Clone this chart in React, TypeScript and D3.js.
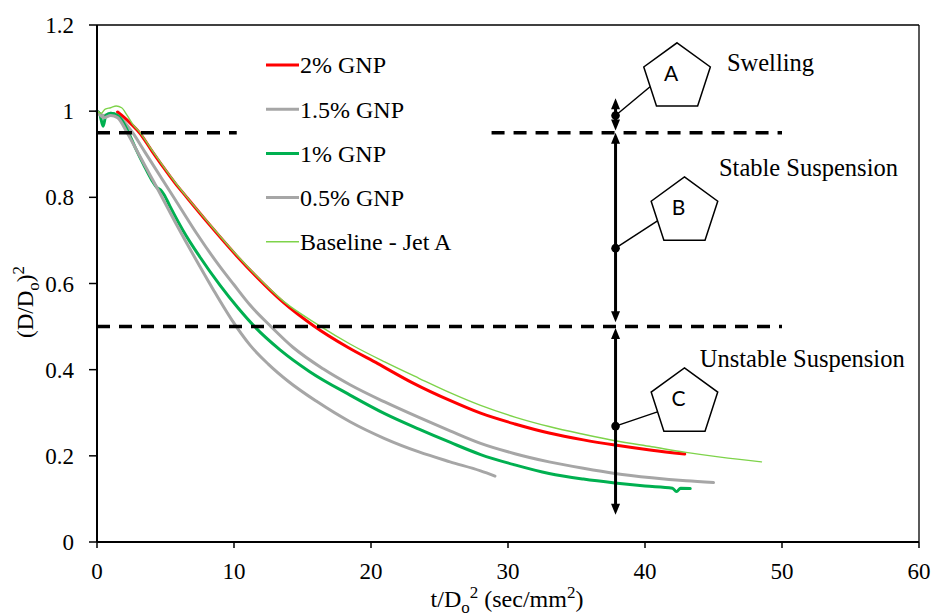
import React from 'react';
import * as d3 from 'd3';

// ---------- data ----------
const xTicks = [0, 10, 20, 30, 40, 50, 60];
const yTicks = [0, 0.2, 0.4, 0.6, 0.8, 1, 1.2];
const yTickLabels = ['0', '0.2', '0.4', '0.6', '0.8', '1', '1.2'];

const gnp2T = [1.5, 2.0, 2.5, 3.1, 4.0, 4.84, 5.7, 6.55, 8.25, 10.2, 11.6, 13.6, 15.8, 18.3, 20.5, 23, 25.8, 28, 30.5, 33, 35.5, 37.8, 40.5, 42.9];
const gnp2V = [0.998, 0.985, 0.97, 0.95, 0.908, 0.87, 0.833, 0.8, 0.735, 0.664, 0.617, 0.556, 0.502, 0.452, 0.414, 0.37, 0.328, 0.299, 0.274, 0.253, 0.237, 0.225, 0.213, 0.204];

const gnp15T = [0, 0.5, 1.0, 1.5, 2.0, 2.6, 3.5, 4.7, 6.0, 7.28, 9.0, 10.0, 11.17, 12.7, 14.3, 16.5, 18.47, 21, 23.5, 25.77, 28, 30.5, 33, 35.5, 37.8, 40.5, 43, 45];
const gnp15V = [1.0, 0.99, 0.995, 0.99, 0.975, 0.95, 0.905, 0.845, 0.78, 0.716, 0.638, 0.597, 0.55, 0.5, 0.452, 0.402, 0.365, 0.325, 0.289, 0.258, 0.229, 0.205, 0.186, 0.171, 0.159, 0.149, 0.142, 0.138];

const gnp1T = [0, 0.2, 0.45, 0.65, 1.0, 1.5, 1.9, 2.3, 2.8, 3.4, 4.0, 4.4, 4.65, 4.9, 5.33, 6.3, 7.5, 9.0, 10.3, 11.5, 13.36, 15.5, 18.47, 21, 23.5, 25.8, 28, 30.5, 33, 35.5, 37.8, 40, 42, 42.3, 42.6, 43.3];
const gnp1V = [1.0, 0.993, 0.965, 0.99, 0.995, 0.99, 0.975, 0.95, 0.915, 0.876, 0.84, 0.822, 0.817, 0.806, 0.779, 0.722, 0.662, 0.595, 0.543, 0.5, 0.446, 0.396, 0.341, 0.298, 0.262, 0.231, 0.203, 0.179, 0.159, 0.146, 0.137, 0.13, 0.125, 0.117, 0.125, 0.124];

const gnp05T = [0, 0.5, 1.0, 1.5, 2.2, 3.0, 3.87, 4.3, 5.8, 7.5, 8.5, 9.85, 11.17, 12.5, 14, 16, 18.47, 21, 23.5, 25.77, 28, 29.05];
const gnp05V = [1.0, 0.985, 0.99, 0.985, 0.95, 0.903, 0.852, 0.827, 0.737, 0.64, 0.585, 0.515, 0.457, 0.413, 0.372, 0.327, 0.279, 0.24, 0.209, 0.186, 0.165, 0.153];

const jetAT = [0, 0.3, 0.6, 1.0, 1.4, 1.8, 2.2, 2.6, 3.1, 4.0, 4.84, 5.7, 6.55, 8.25, 10.2, 11.6, 13.6, 16.2, 18.5, 21, 23.5, 25.8, 28, 30.5, 33, 35.5, 37.8, 40.5, 43, 45.5, 48.5];
const jetAV = [1.0, 0.995, 1.005, 1.008, 1.012, 1.008, 0.99, 0.97, 0.952, 0.91, 0.872, 0.835, 0.801, 0.737, 0.666, 0.619, 0.559, 0.503, 0.459, 0.418, 0.38, 0.346, 0.317, 0.29, 0.268, 0.25, 0.235, 0.221, 0.208, 0.197, 0.186];

const seriesNames = ['2% GNP', '1.5% GNP', '1% GNP', '0.5% GNP', 'Baseline - Jet A'];
const seriesColors = ['#FF0000', '#A6A6A6', '#00B050', '#A6A6A6', '#7ED34A'];
const seriesWidths = [3, 3, 3, 3, 1.4];
const seriesT = [gnp2T, gnp15T, gnp1T, gnp05T, jetAT];
const seriesV = [gnp2V, gnp15V, gnp1V, gnp05V, jetAV];

// threshold lines: [y, x0, x1]
const dashedLines = [
  [0.95, 0, 10.2],
  [0.95, 28.8, 50],
  [0.5, 0, 50],
];

const markerT = 37.85;
// segments: [vLow, vHigh, dotV]
const segments = [
  [0.955, 1.03, 0.99],
  [0.51, 0.95, 0.682],
  [0.063, 0.497, 0.269],
];
const zoneLabels = ['A', 'B', 'C'];
// pentagon centres in data units
const pentT = [42.34, 42.88, 42.88];
const pentV = [1.0775, 0.766, 0.323];

const zoneTexts = ['Swelling', 'Stable Suspension', 'Unstable Suspension'];
const zoneTextT = [45.98, 45.4, 44.0];
const zoneTextV = [1.093, 0.85, 0.407];

const serif = "'Liberation Serif', 'Times New Roman', serif";
const sans = "Lato, 'Open Sans', sans-serif";

export default function App() {
  const W = 935, H = 616;
  const x = d3.scaleLinear().domain([0, 60]).range([97, 919]);
  const y = d3.scaleLinear().domain([0, 1.2]).range([542, 25]);
  const [x0, x1] = x.range();
  const [y0, y1] = y.range();

  const line = d3.line<[number, number]>()
    .x(d => x(d[0]))
    .y(d => y(d[1]))
    .curve(d3.curveMonotoneX);

  const R = 35;
  const pentPts = (cx: number, cy: number) =>
    d3.range(5).map(k => {
      const a = (-90 + 72 * k) * Math.PI / 180;
      return [cx + R * Math.cos(a), cy + R * Math.sin(a)].join(',');
    }).join(' ');

  const mx = x(markerT);
  const arrowUp = (tip: number) => `${mx},${tip} ${mx - 4.5},${tip + 11} ${mx + 4.5},${tip + 11}`;
  const arrowDown = (tip: number) => `${mx},${tip} ${mx - 4.5},${tip - 11} ${mx + 4.5},${tip - 11}`;

  return (
    <svg width={W} height={H} style={{ position: 'absolute', left: 0, top: 0, background: '#fff' }}>
      <rect x={0} y={0} width={W} height={H} fill="#fff" />
      {/* frame */}
      <line x1={x0} x2={x1} y1={y1} y2={y1} stroke="#000" strokeWidth={1.3} />
      <line x1={x1} x2={x1} y1={y1} y2={y0} stroke="#000" strokeWidth={1.3} />

      {/* series */}
      {seriesT.map((ts, i) => (
        <path key={i}
          d={line(ts.map((t, j) => [t, seriesV[i][j]] as [number, number])) || ''}
          fill="none" stroke={seriesColors[i]} strokeWidth={seriesWidths[i]}
          strokeLinejoin="round" strokeLinecap="round" />
      ))}

      {/* dashed thresholds */}
      {dashedLines.map((d, i) => (
        <line key={i} x1={x(d[1])} x2={x(d[2])} y1={y(d[0])} y2={y(d[0])}
          stroke="#000" strokeWidth={3.5} strokeDasharray="13 9" />
      ))}

      {/* axes */}
      <line x1={x0} x2={x1} y1={y0} y2={y0} stroke="#000" strokeWidth={2} />
      <line x1={x0} x2={x0} y1={y0} y2={y1} stroke="#000" strokeWidth={2} />
      {xTicks.map(t => (
        <g key={'x' + t}>
          <line x1={x(t)} x2={x(t)} y1={y0} y2={y0 + 6} stroke="#000" strokeWidth={1.5} />
          <text x={x(t)} y={579} textAnchor="middle" fontFamily={serif} fontSize={23} fill="#000">{t}</text>
        </g>
      ))}
      {yTicks.map((v, i) => (
        <g key={'y' + v}>
          <line x1={x0 - 8} x2={x0} y1={y(v)} y2={y(v)} stroke="#000" strokeWidth={1.5} />
          <text x={74} y={y(v)} dy="0.35em" textAnchor="end" fontFamily={serif} fontSize={23} fill="#000">{yTickLabels[i]}</text>
        </g>
      ))}

      {/* axis titles */}
      <text x={507} y={607} textAnchor="middle" fontFamily={serif} fontSize={24} fill="#000">
        t/D<tspan dy={6} fontSize={17}>o</tspan><tspan dy={-15} fontSize={17}>2</tspan><tspan dy={9}> (sec/mm</tspan><tspan dy={-9} fontSize={17}>2</tspan><tspan dy={9}>)</tspan>
      </text>
      <text transform="translate(33,302) rotate(-90)" textAnchor="middle" fontFamily={serif} fontSize={23} fill="#000">
        (D/D<tspan dy={6} fontSize={17}>o</tspan><tspan dy={-6}>)</tspan><tspan dy={-9} fontSize={17}>2</tspan>
      </text>

      {/* legend */}
      {seriesNames.map((n, i) => {
        const ly = 65 + i * 44.2;
        return (
          <g key={'l' + i}>
            <line x1={266} x2={299} y1={ly} y2={ly} stroke={seriesColors[i]} strokeWidth={seriesWidths[i]} />
            <text x={300} y={ly} dy="0.35em" fontFamily={serif} fontSize={24} fill="#000">{n}</text>
          </g>
        );
      })}

      {/* vertical marker with arrows */}
      {segments.map((s, i) => {
        const yLo = y(s[0]);
        const yHi = y(s[1]);
        const pcx = x(pentT[i]);
        const pcy = y(pentV[i]);
        return (
          <g key={'s' + i}>
            <line x1={mx} x2={mx} y1={yHi + 6} y2={yLo - 6} stroke="#000" strokeWidth={3} />
            <polygon points={arrowUp(yHi)} fill="#000" />
            <polygon points={arrowDown(yLo)} fill="#000" />
            <circle cx={mx} cy={y(s[2])} r={4.3} fill="#000" />
            <line x1={mx} y1={y(s[2])} x2={pcx - 27} y2={pcy + 9} stroke="#000" strokeWidth={1.5} />
            <polygon points={pentPts(pcx, pcy)} fill="#fff" stroke="#000" strokeWidth={1.5} />
            <text x={pcx - 6} y={pcy - 4} dy="0.35em" textAnchor="middle" fontFamily={sans} fontSize={21} fill="#000">{zoneLabels[i]}</text>
          </g>
        );
      })}

      {zoneTexts.map((t, i) => (
        <text key={'z' + i} x={x(zoneTextT[i])} y={y(zoneTextV[i])} fontFamily={serif} fontSize={24.5} fill="#000">{t}</text>
      ))}
    </svg>
  );
}
